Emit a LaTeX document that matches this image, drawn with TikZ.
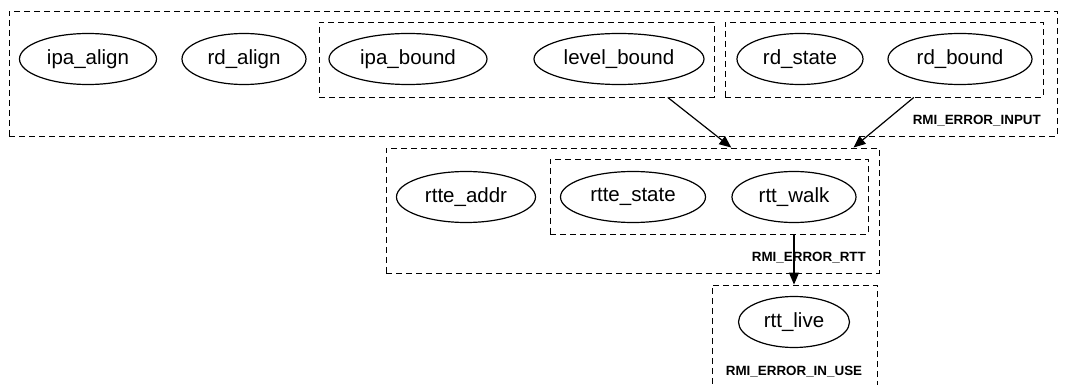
\documentclass[tikz,border=0pt]{standalone}
\usepackage{fontspec}
\setmainfont{Liberation Sans}
\usetikzlibrary{shapes.geometric,arrows.meta,fit}
\tikzset{
    check/.style={ellipse, draw, line width=1.2pt, minimum height=51pt,
        inner sep=0pt, font=\fontsize{20.5}{22}\selectfont},
    cluster/.style={draw, dash pattern=on 6pt off 4pt, line width=0.9pt,
        inner sep=0pt},
    errlabel/.style={font=\fontsize{13.4}{15}\selectfont\bfseries, inner sep=0pt},
    dep/.style={line width=1.2pt, -{Triangle[length=12pt,width=10pt]}},
}
\begin{document}
\begin{tikzpicture}[x=1pt,y=-1pt]
        \useasboundingbox (0,0) rectangle (1066,385);
        %% Clusters
        \node[cluster, fit={(9,11) (1057,136)}]   (cInput) {};
        \node[cluster, fit={(319,22) (714,97)}]   (cBound) {};
        \node[cluster, fit={(725,22) (1043,97)}]  (cRd) {};
        \node[cluster, fit={(386,148) (879,273)}] (cRtt) {};
        \node[cluster, fit={(550,159) (868,234)}] (cWalk) {};
        \node[cluster, fit={(712,285) (877,392)}] (cUse) {};
        %% Checks
        \node[check, minimum width=137pt] (ipaAlign)   at (88,59)   {ipa\_align};
        \node[check, minimum width=124pt] (rdAlign)    at (244,59)  {rd\_align};
        \node[check, minimum width=158pt] (ipaBound)   at (408,59)  {ipa\_bound};
        \node[check, minimum width=170pt] (levelBound) at (619,59)  {level\_bound};
        \node[check, minimum width=126pt] (rdState)    at (800,59)  {rd\_state};
        \node[check, minimum width=144pt] (rdBound)    at (960,59)  {rd\_bound};
        \node[check, minimum width=139pt] (rtteAddr)   at (466,197) {rtte\_addr};
        \node[check, minimum width=145pt] (rtteState)  at (633,197) {rtte\_state};
        \node[check, minimum width=124pt] (rttWalk)    at (794,197) {rtt\_walk};
        \node[check, minimum width=111pt] (rttLive)    at (794,322) {rtt\_live};
        %% Labels
        \node[errlabel, anchor=east] (lInput) at (1041,121) {RMI\_ERROR\_INPUT};
        \node[errlabel, anchor=east] (lRtt)   at (866,258)  {RMI\_ERROR\_RTT};
        \node[errlabel]              (lUse)   at (794,372)  {RMI\_ERROR\_IN\_USE};
        %% Edges
        \draw[dep] (intersection of levelBound--rttWalk and cBound.south west--cBound.south east)
            -- (intersection of levelBound--rttWalk and cRtt.north west--cRtt.north east);
        \draw[dep] (intersection of rdBound--rttWalk and cRd.south west--cRd.south east)
            -- (intersection of rdBound--rttWalk and cRtt.north west--cRtt.north east);
        \draw[dep] (intersection of rttWalk--rttLive and cWalk.south west--cWalk.south east)
            -- (intersection of rttWalk--rttLive and cUse.north west--cUse.north east);
    \end{tikzpicture}
\end{document}
